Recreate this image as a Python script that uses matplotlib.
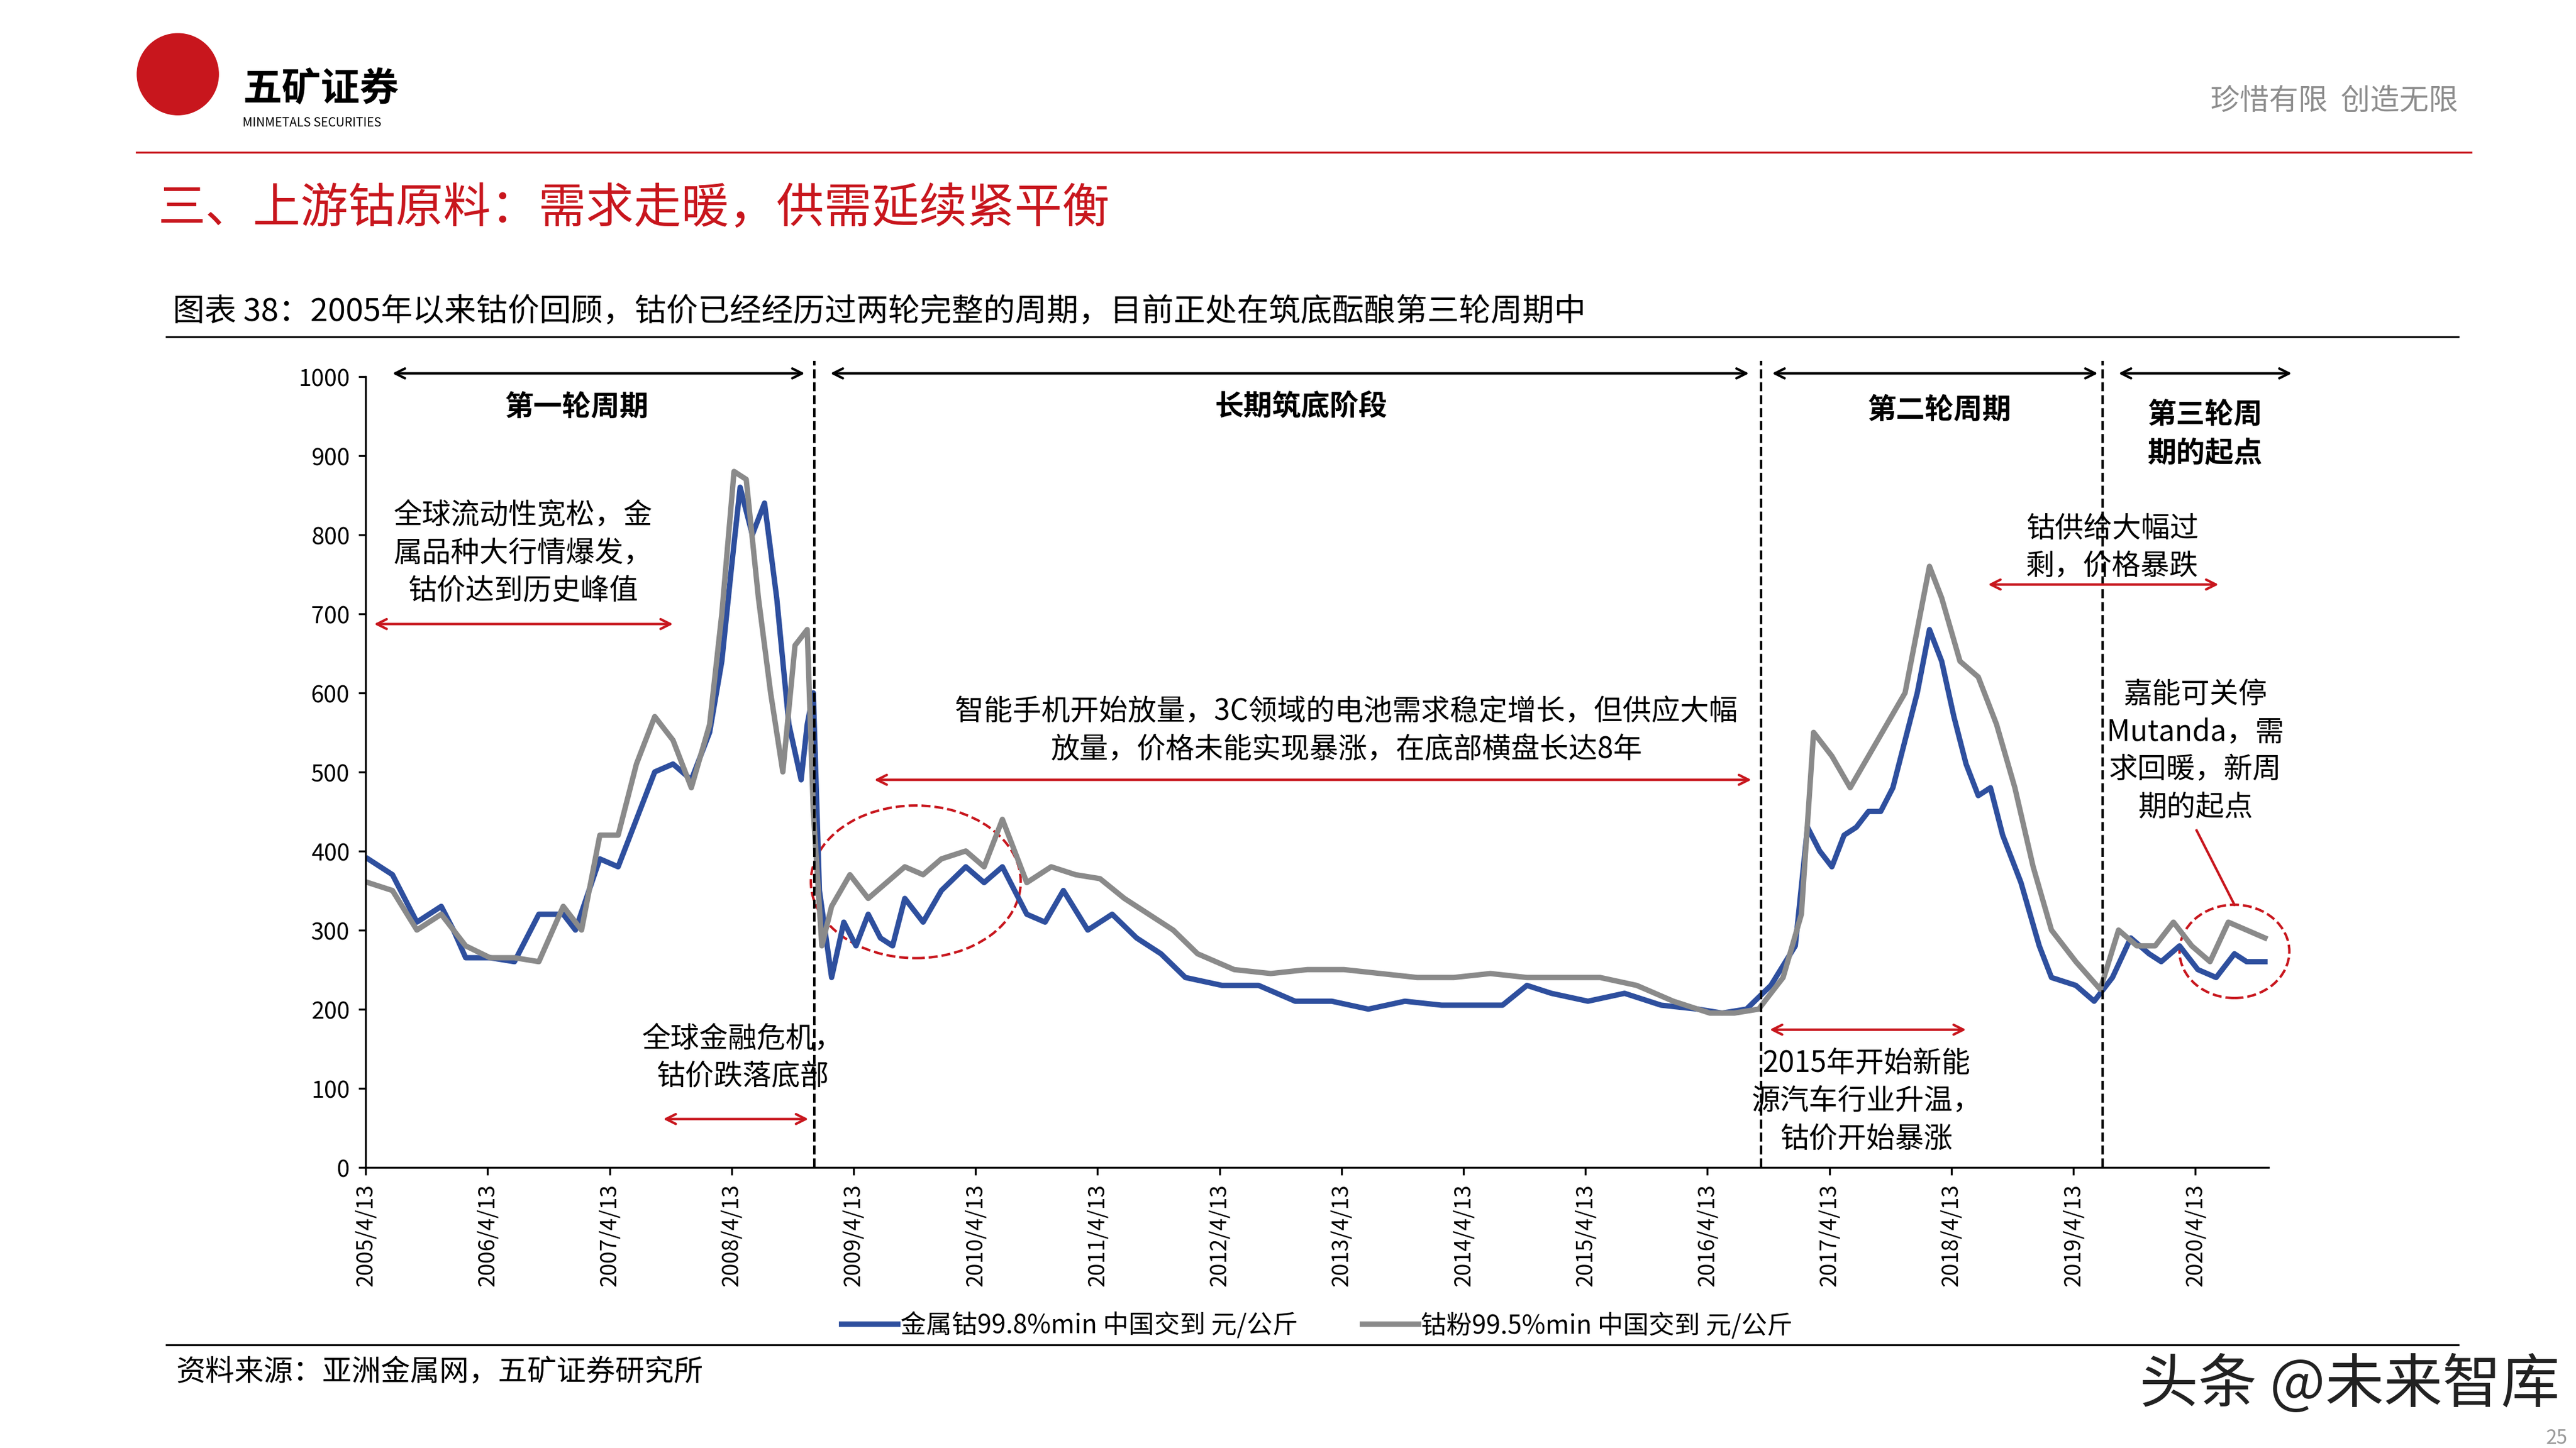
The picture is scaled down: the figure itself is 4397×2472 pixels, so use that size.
import matplotlib
matplotlib.use("Agg")
import matplotlib.pyplot as plt
from matplotlib.patches import Ellipse
plt.rcParams['font.family'] = ['Noto Sans CJK SC', 'DejaVu Sans']

t_blue = [2005.3,2005.5,2005.7,2005.9,2006.0,2006.1,2006.3,2006.5,2006.7,2006.9,2007.0,2007.2,2007.35,2007.5,2007.65,2007.8,2007.95,2008.1,2008.2,2008.28,2008.35,2008.45,2008.55,2008.65,2008.75,2008.85,2008.9,2008.95,2009.0,2009.1,2009.2,2009.3,2009.4,2009.5,2009.6,2009.7,2009.85,2010.0,2010.2,2010.35,2010.5,2010.7,2010.85,2011.0,2011.2,2011.4,2011.6,2011.8,2012.0,2012.3,2012.6,2012.9,2013.2,2013.5,2013.8,2014.1,2014.4,2014.6,2014.8,2015.0,2015.3,2015.6,2015.9,2016.2,2016.4,2016.6,2016.8,2017.0,2017.1,2017.2,2017.3,2017.4,2017.5,2017.6,2017.7,2017.8,2017.9,2018.0,2018.1,2018.2,2018.3,2018.4,2018.5,2018.6,2018.7,2018.85,2019.0,2019.1,2019.3,2019.45,2019.6,2019.75,2019.9,2020.0,2020.15,2020.3,2020.45,2020.6,2020.7,2020.85]
blue = [390,370,310,330,300,265,265,260,320,320,300,390,380,440,500,510,490,550,640,760,860,800,840,720,560,490,560,600,350,240,310,280,320,290,280,340,310,350,380,360,380,320,310,350,300,320,290,270,240,230,230,210,210,200,210,205,205,205,230,220,210,220,205,200,195,200,230,280,430,400,380,420,430,450,450,480,540,600,680,640,570,510,470,480,420,360,280,240,230,210,240,290,270,260,280,250,240,270,260,260]

t_gray = [2005.3,2005.5,2005.7,2005.9,2006.1,2006.3,2006.5,2006.7,2006.9,2007.05,2007.2,2007.35,2007.5,2007.65,2007.8,2007.95,2008.1,2008.2,2008.3,2008.4,2008.5,2008.6,2008.7,2008.8,2008.9,2008.95,2009.02,2009.1,2009.25,2009.4,2009.55,2009.7,2009.85,2010.0,2010.2,2010.35,2010.5,2010.7,2010.9,2011.1,2011.3,2011.5,2011.7,2011.9,2012.1,2012.4,2012.7,2013.0,2013.3,2013.6,2013.9,2014.2,2014.5,2014.8,2015.1,2015.4,2015.7,2016.0,2016.3,2016.5,2016.7,2016.9,2017.05,2017.15,2017.3,2017.45,2017.6,2017.75,2017.9,2018.0,2018.1,2018.2,2018.35,2018.5,2018.65,2018.8,2018.95,2019.1,2019.3,2019.5,2019.65,2019.8,2019.95,2020.1,2020.25,2020.4,2020.55,2020.7,2020.85]
gray = [360,350,300,320,280,265,265,260,330,300,420,420,510,570,540,480,560,700,880,870,720,600,500,660,680,450,280,330,370,340,360,380,370,390,400,380,440,360,380,370,365,340,320,300,270,250,245,250,250,245,240,240,245,240,240,240,230,210,195,195,200,240,320,550,520,480,520,560,600,680,760,720,640,620,560,480,380,300,260,225,300,280,280,310,280,260,310,300,290]

fig = plt.figure(figsize=(14.657, 8.243), dpi=300)
W, H = 1550, 872
def fx(x): return x / W
def fy(y): return 1 - y / H

fig.patches.append(Ellipse((fx(107), fy(45)), 0.031, 0.031 * 4397 / 2473, transform=fig.transFigure, color='#c8161d'))
fig.text(fx(146), fy(54), '五矿证券', fontsize=16, fontweight='bold', va='center')
fig.text(fx(146), fy(74), 'MINMETALS SECURITIES', fontsize=5, va='center')
fig.text(fx(1479), fy(61), '珍惜有限  创造无限', fontsize=12, color='#8c8c8c', ha='right', va='center')
fig.add_artist(plt.Line2D([fx(82), fx(1487)], [fy(92), fy(92)], color='#c8161d', lw=0.8))
fig.text(fx(95), fy(126), '三、上游钴原料：需求走暖，供需延续紧平衡', fontsize=19.5, color='#c8161d', va='center')
fig.text(fx(104), fy(188), '图表 38：2005年以来钴价回顾，钴价已经经历过两轮完整的周期，目前正处在筑底酝酿第三轮周期中', fontsize=13, va='center')
fig.add_artist(plt.Line2D([fx(100), fx(1479)], [fy(203), fy(203)], color='black', lw=0.8))
fig.add_artist(plt.Line2D([fx(100), fx(1479)], [fy(810), fy(810)], color='black', lw=0.8))
fig.text(fx(106), fy(826), '资料来源：亚洲金属网，五矿证券研究所', fontsize=12, va='center')
fig.text(fx(1540), fy(834), '头条 @未来智库', fontsize=24, ha='right', va='center', color='#222222')
fig.text(fx(1545), fy(866), '25', fontsize=8, ha='right', va='center', color='#999999')

ax = fig.add_axes([fx(220), fy(703), fx(1365) - fx(220), fy(227) - fy(703)])
ax.plot(t_blue, blue, color='#2e4f9e', lw=2.2, label='金属钴99.8%min 中国交到 元/公斤')
ax.plot(t_gray, gray, color='#8a8a8a', lw=2.2, label='钴粉99.5%min 中国交到 元/公斤')
ax.set_ylim(0, 1000)
ax.set_xlim(2005.28, 2020.88)
ax.set_yticks(range(0, 1001, 100))
xt = [2005.28 + k for k in range(16)]
ax.set_xticks(xt)
ax.set_xticklabels([f'{2005+k}/4/13' for k in range(16)], rotation=90, fontsize=9)
ax.tick_params(axis='y', labelsize=9.5, length=3)
ax.tick_params(axis='x', length=3)
for s in ['top', 'right']:
    ax.spines[s].set_visible(False)
ax.legend(loc='center', bbox_to_anchor=(0.5, -0.2), ncol=2, frameon=False, fontsize=10.5,
          handlelength=2.2, columnspacing=2.5, handletextpad=0.1)

def darrow(x1, x2, y, color):
    ax.annotate('', xy=(x1, y), xytext=(x2, y), annotation_clip=False,
                arrowprops=dict(arrowstyle='<->', color=color, lw=1.0))

for a, b in [(2005.46, 2008.92), (2009.05, 2016.66), (2016.77, 2019.52), (2019.61, 2021.11)]:
    darrow(a, b, 1004, 'black')
for xv in [2008.96, 2016.72, 2019.52]:
    ax.plot([xv, xv], [0, 1020], ls='--', color='black', lw=1.0, clip_on=False)

fs = 11.8
ax.text(2007.01, 962, '第一轮周期', ha='center', va='center', fontsize=fs, fontweight='bold')
ax.text(2012.95, 962, '长期筑底阶段', ha='center', va='center', fontsize=fs, fontweight='bold')
ax.text(2018.18, 958, '第二轮周期', ha='center', va='center', fontsize=fs, fontweight='bold')
ax.text(2020.36, 928, '第三轮周\n期的起点', ha='center', va='center', fontsize=fs, fontweight='bold', linespacing=1.4)
ax.text(2006.57, 777, '全球流动性宽松，金\n属品种大行情爆发，\n钴价达到历史峰值', ha='center', va='center', fontsize=fs, linespacing=1.3)
darrow(2005.31, 2007.84, 687, '#c8161d')
ax.text(2013.32, 553, '智能手机开始放量，3C领域的电池需求稳定增长，但供应大幅\n放量，价格未能实现暴涨，在底部横盘长达8年', ha='center', va='center', fontsize=fs, linespacing=1.3)
darrow(2009.41, 2016.68, 490, '#c8161d')
ax.add_patch(Ellipse((2009.79, 361), 1.72, 193, fill=False, ls='--', color='#c8161d', lw=1.0))
ax.text(2008.37, 139, '全球金融危机，\n钴价跌落底部', ha='center', va='center', fontsize=fs, linespacing=1.3)
darrow(2007.68, 2008.95, 61, '#c8161d')
ax.text(2017.58, 84, '2015年开始新能\n源汽车行业升温，\n钴价开始暴涨', ha='center', va='center', fontsize=fs, linespacing=1.3)
darrow(2016.75, 2018.44, 174, '#c8161d')
ax.text(2019.6, 784, '钴供给大幅过\n剩，价格暴跌', ha='center', va='center', fontsize=fs, linespacing=1.3)
darrow(2018.54, 2020.51, 737, '#c8161d')
ax.text(2020.28, 527, '嘉能可关停\nMutanda，需\n求回暖，新周\n期的起点', ha='center', va='center', fontsize=fs, linespacing=1.3)
ax.plot([2020.29, 2020.6], [426, 332], color='#c8161d', lw=1.0, clip_on=False)
ax.add_patch(Ellipse((2020.6, 273), 0.9, 118, fill=False, ls='--', color='#c8161d', lw=1.0, clip_on=False))

fig.savefig('out.png', dpi=300)
